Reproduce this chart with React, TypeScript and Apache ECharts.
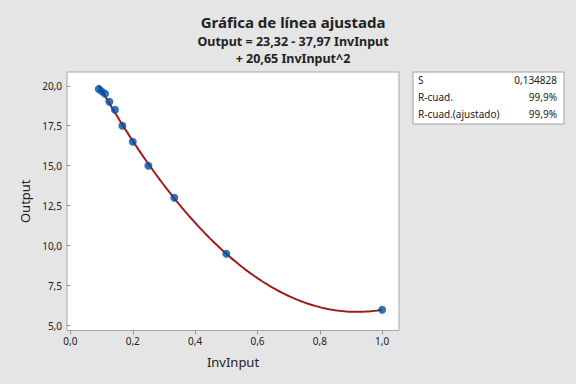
import React, { useEffect, useRef } from "react";
import * as echarts from "echarts";

const invInput = [1 / 11, 1 / 10, 1 / 9, 1 / 8, 1 / 7, 1 / 6, 1 / 5, 1 / 4, 1 / 3, 1 / 2, 1];
const output = [19.8, 19.65, 19.5, 19.0, 18.5, 17.5, 16.5, 15.0, 13.0, 9.5, 6.0];
// fitted regression coefficients shown in the title
const coefB0 = 23.32;
const coefB1 = -37.97;
const coefB2 = 20.65;
const xTicks = [0, 0.2, 0.4, 0.6, 0.8, 1.0];
const yTicks = [5, 7.5, 10, 12.5, 15, 17.5, 20];
const statLabels = ["S", "R-cuad.", "R-cuad.(ajustado)"];
const statValues = ["0,134828", "99,9%", "99,9%"];

const FONT = "'Noto Sans', 'Open Sans', sans-serif";
const fmt = (v: number) => v.toFixed(1).replace(".", ",");

export default function App() {
  const ref = useRef<HTMLDivElement>(null);
  useEffect(() => {
    if (!ref.current) return;
    const chart = echarts.init(ref.current, null, { renderer: "svg" });
    const xMin = Math.min(...invInput);
    const xMax = Math.max(...invInput);
    const fit: number[][] = [];
    const n = 120;
    for (let i = 0; i <= n; i++) {
      const x = xMin + ((xMax - xMin) * i) / n;
      fit.push([x, coefB0 + coefB1 * x + coefB2 * x * x]);
    }
    const pts = invInput.map((x, i) => [x, output[i]]);
    const rowY = [80, 97, 114];
    const statChildren: any[] = [
      {
        type: "rect",
        shape: { x: 0, y: 0, width: 151, height: 52 },
        style: { fill: "#ffffff", stroke: "#a0a0a0", lineWidth: 1 },
      },
    ];
    statLabels.forEach((l, i) => {
      statChildren.push({
        type: "text",
        x: 5,
        y: rowY[i] - 72,
        style: { text: l, fill: "#222", font: `10px ${FONT}`, textAlign: "left", textVerticalAlign: "middle" },
      });
      statChildren.push({
        type: "text",
        x: 144,
        y: rowY[i] - 72,
        style: { text: statValues[i], fill: "#222", font: `10px ${FONT}`, textAlign: "right", textVerticalAlign: "middle" },
      });
    });
    chart.setOption({
      animation: false,
      backgroundColor: "#e5e5e5",
      textStyle: { fontFamily: FONT },
      title: {
        left: 288,
        textAlign: "center",
        top: 9,
        text: "Gráfica de línea ajustada",
        subtext: "Output = 23,32 - 37,97 InvInput\n+ 20,65 InvInput^2",
        itemGap: 4,
        textStyle: { fontSize: 15, fontWeight: "bold", color: "#222", fontFamily: FONT },
        subtextStyle: { fontSize: 12.5, fontWeight: "bold", color: "#222", lineHeight: 17, fontFamily: FONT },
      },
      grid: {
        left: 67,
        top: 72,
        right: 177,
        bottom: 53.5,
        show: true,
        backgroundColor: "#ffffff",
        borderColor: "#a8a8a8",
        borderWidth: 1,
      },
      xAxis: {
        type: "value",
        min: -0.011,
        max: 1.054,
        name: "InvInput",
        nameLocation: "middle",
        nameGap: 25,
        nameTextStyle: { fontSize: 13, color: "#222", fontFamily: FONT },
        axisLine: { show: false },
        splitLine: { show: false },
        axisTick: { show: true, length: 4, lineStyle: { color: "#999" }, customValues: xTicks },
        axisLabel: {
          customValues: xTicks,
          formatter: (v: number) => fmt(v),
          fontSize: 10,
          color: "#222",
          margin: 5,
          fontFamily: FONT,
        },
      },
      yAxis: {
        type: "value",
        min: 4.7,
        max: 20.86,
        name: "Output",
        nameLocation: "middle",
        nameGap: 30,
        nameTextStyle: { fontSize: 13, color: "#222", fontFamily: FONT },
        axisLine: { show: false },
        splitLine: { show: false },
        axisTick: { show: true, length: 4, lineStyle: { color: "#999" }, customValues: yTicks },
        axisLabel: {
          customValues: yTicks,
          formatter: (v: number) => fmt(v),
          fontSize: 10,
          color: "#222",
          margin: 5,
          fontFamily: FONT,
        },
      },
      series: [
        {
          type: "line",
          data: fit,
          showSymbol: false,
          symbol: "none",
          lineStyle: { color: "#a01c1c", width: 2 },
          z: 2,
        },
        {
          type: "scatter",
          data: pts,
          symbolSize: 8,
          itemStyle: { color: "#0050a2" },
          clip: false,
          z: 3,
        },
      ],
      graphic: [
        {
          type: "group",
          x: 413,
          y: 72,
          children: statChildren,
        },
      ],
    });
    return () => chart.dispose();
  }, []);
  return (
    <div
      ref={ref}
      style={{ position: "fixed", left: 0, top: 0, width: 576, height: 384 }}
    />
  );
}
